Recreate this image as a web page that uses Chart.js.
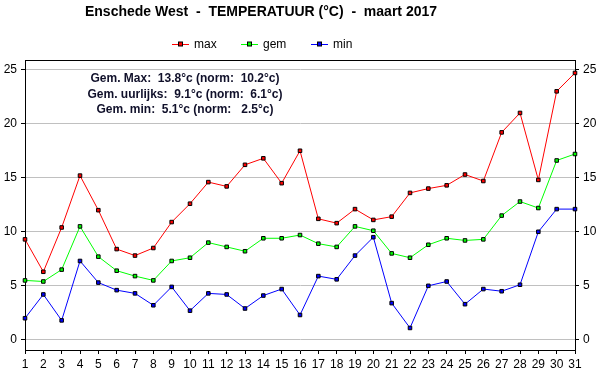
<!DOCTYPE html>
<html>
<head>
<meta charset="utf-8">
<script src="https://cdn.jsdelivr.net/npm/chart.js@4/dist/chart.umd.min.js"></script>
<style>
  html, body { margin: 0; padding: 0; background: #fff; }
  #wrap { width: 600px; height: 390px; }
</style>
</head>
<body>
<div id="wrap"><canvas id="chart" width="600" height="390"></canvas></div>
<script>
const TITLE = "Enschede West  -  TEMPERATUUR (°C)  -  maart 2017";

const days = Array.from({ length: 31 }, (_, i) => String(i + 1));

const maxTemp = [9.3, 6.3, 10.4, 15.2, 12.0, 8.4, 7.8, 8.5, 10.9, 12.6,
                 14.6, 14.2, 16.2, 16.8, 14.5, 17.5, 11.2, 10.8, 12.1, 11.1,
                 11.4, 13.6, 14.0, 14.3, 15.3, 14.7, 19.2, 21.0, 14.8, 23.0, 24.7];

const gemTemp = [5.5, 5.4, 6.5, 10.5, 7.7, 6.4, 5.9, 5.5, 7.3, 7.6,
                 9.0, 8.6, 8.2, 9.4, 9.4, 9.7, 8.9, 8.6, 10.5, 10.1,
                 8.0, 7.6, 8.8, 9.4, 9.2, 9.3, 11.5, 12.8, 12.2, 16.6, 17.2];

const minTemp = [2.0, 4.2, 1.8, 7.3, 5.3, 4.6, 4.3, 3.2, 4.9, 2.7,
                 4.3, 4.2, 2.9, 4.1, 4.7, 2.3, 5.9, 5.6, 7.8, 9.5,
                 3.4, 1.1, 5.0, 5.4, 3.3, 4.7, 4.5, 5.1, 10.0, 12.1, 12.1];

const yTicks = [0, 5, 10, 15, 20, 25];

const statLines = [
  "Gem. Max:  13.8°c (norm:  10.2°c)",
  "Gem. uurlijks:  9.1°c (norm:  6.1°c)",
  "Gem. min:  5.1°c (norm:   2.5°c)",
];

const SERIES = [
  { label: "max", data: maxTemp, color: "#ff0000" },
  { label: "gem", data: gemTemp, color: "#00ff00" },
  { label: "min", data: minTemp, color: "#0000ff" },
];

const FONT = "'Liberation Sans', Arial, sans-serif";

function makeDataset(s) {
  return {
    label: s.label,
    data: s.data,
    borderColor: s.color,
    borderWidth: 1,
    backgroundColor: s.color,
    pointStyle: "rect",
    pointRadius: 2.5,
    pointBorderColor: "#000",
    pointBorderWidth: 1,
    pointBackgroundColor: s.color,
    tension: 0,
    clip: 6,
  };
}

// title, legend, stats text and top frame line
const decor = {
  id: "decor",
  afterDraw(chart) {
    const ctx = chart.ctx;
    const a = chart.chartArea;
    ctx.save();

    ctx.strokeStyle = "#000";
    ctx.lineWidth = 1;
    ctx.beginPath();
    ctx.moveTo(a.left, a.top + 0.5);
    ctx.lineTo(a.right, a.top + 0.5);
    ctx.stroke();

    ctx.fillStyle = "#000";
    ctx.font = "bold 14px " + FONT;
    ctx.textAlign = "center";
    ctx.textBaseline = "middle";
    ctx.fillText(TITLE, 261, 12);

    const legendX = [172, 241, 311];
    ctx.font = "12px " + FONT;
    ctx.textAlign = "left";
    SERIES.forEach((s, i) => {
      const x = legendX[i], y = 44.5;
      ctx.strokeStyle = s.color;
      ctx.beginPath();
      ctx.moveTo(x, y);
      ctx.lineTo(x + 17, y);
      ctx.stroke();
      ctx.fillStyle = "#000";
      ctx.fillRect(x + 6, y - 3, 5, 5);
      ctx.fillStyle = s.color;
      ctx.fillRect(x + 7, y - 2, 3, 3);
      ctx.fillStyle = "#000";
      ctx.fillText(s.label, x + 22, y);
    });

    ctx.fillStyle = "#10102a";
    ctx.font = "bold 12px " + FONT;
    ctx.textAlign = "center";
    statLines.forEach((t, i) => ctx.fillText(t, 185, 79 + i * 15.5));

    ctx.restore();
  },
};

new Chart(document.getElementById("chart"), {
  type: "line",
  data: { labels: days, datasets: SERIES.map(makeDataset) },
  plugins: [decor],
  options: {
    responsive: false,
    animation: false,
    layout: { padding: { top: 60, left: 0, right: 0, bottom: 0 } },
    plugins: { legend: { display: false }, title: { display: false }, tooltip: { enabled: false } },
    scales: {
      x: {
        offset: false,
        afterFit: s => { s.height = 40; },
        border: { color: "#000" },
        grid: { drawOnChartArea: false, tickColor: "#000", tickLength: 4 },
        ticks: { color: "#000", font: { family: FONT, size: 12 }, padding: 3, autoSkip: false, maxRotation: 0 },
      },
      y: {
        position: "left",
        min: -0.94,
        max: 25.9,
        afterFit: s => { s.width = 25; },
        afterBuildTicks: s => { s.ticks = yTicks.map(v => ({ value: v })); },
        border: { color: "#000" },
        grid: { color: "#c0c0c0", tickColor: "#000", tickLength: 4 },
        ticks: { color: "#000", font: { family: FONT, size: 12 }, padding: 4 },
      },
      y2: {
        position: "right",
        min: -0.94,
        max: 25.9,
        afterFit: s => { s.width = 25; },
        afterBuildTicks: s => { s.ticks = yTicks.map(v => ({ value: v })); },
        border: { color: "#000" },
        grid: { drawOnChartArea: false, tickColor: "#000", tickLength: 4 },
        ticks: { color: "#000", font: { family: FONT, size: 12 }, padding: 4 },
      },
    },
  },
});
</script>
</body>
</html>
